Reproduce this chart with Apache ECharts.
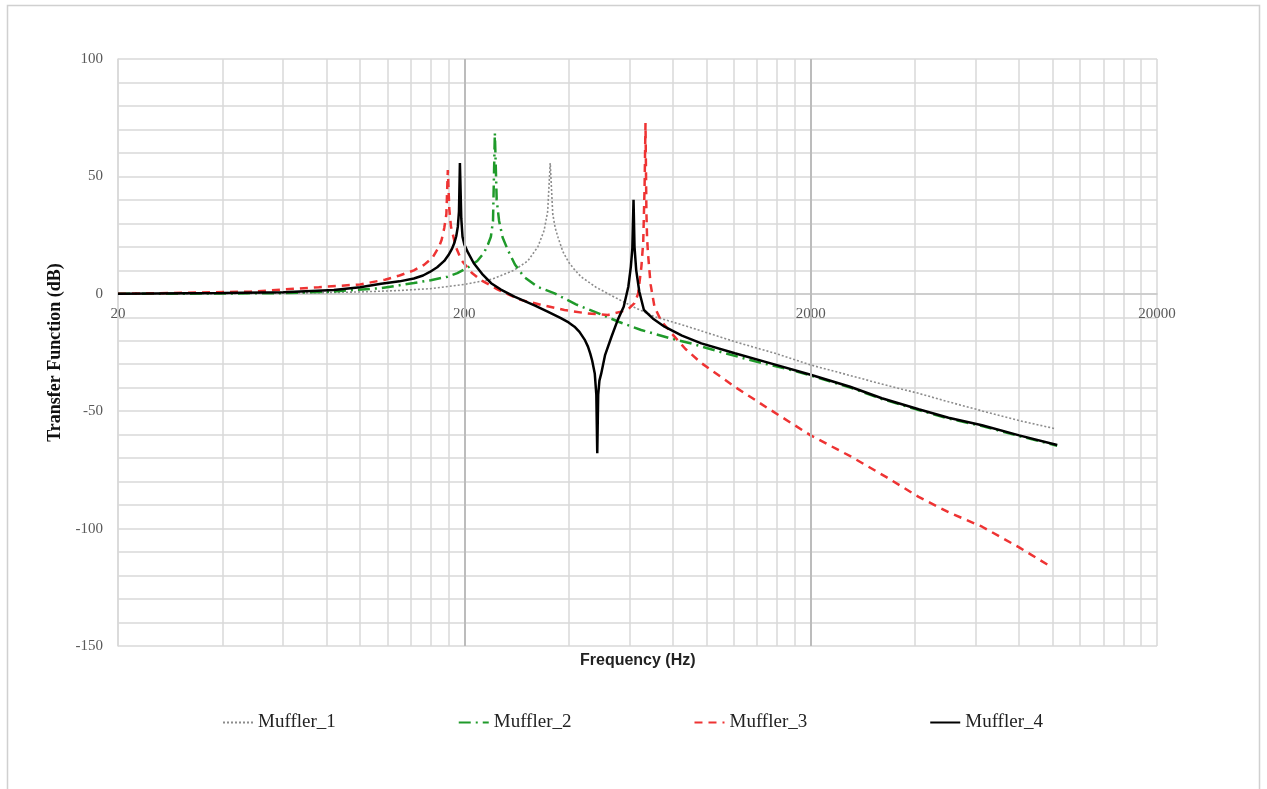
<!DOCTYPE html>
<html>
<head>
<meta charset="utf-8">
<title>Muffler Transfer Function</title>
<script src="https://cdn.jsdelivr.net/npm/echarts@6.0.0/dist/echarts.min.js"></script>
<style>
    html, body { margin: 0; padding: 0; background: #fff; }
    #muffler-chart { width: 1267px; height: 789px; }
</style>
</head>
<body>
<div id="muffler-chart"></div>
<script>
// 频率轴刻度 (Hz)
const xTickLabels = [20, 200, 2000, 20000];
const yTicks = { min: -150, max: 100, step: 50 };

const seriesNames = ['Muffler_1', 'Muffler_2', 'Muffler_3', 'Muffler_4'];

// Muffler_1 (灰色点线)
const freq1 = [20, 40, 60, 80, 100, 130, 160, 200, 240, 278, 305, 326, 340, 348, 354, 360, 366, 373, 385, 400, 415, 435, 480, 542, 620, 707, 850, 967, 1208, 1600, 2000, 2600, 3200, 4100, 5000, 6300, 8000, 10200];
const muffler1 = [0, 0.1, 0.3, 0.5, 0.8, 1.4, 2.2, 4, 6.2, 10, 14, 20, 27, 35, 55.7, 34, 28, 24, 18, 13.5, 10.5, 7.2, 2.8, -1.4, -5.8, -9.7, -13.2, -15.8, -20.4, -25.6, -30.3, -34.8, -38.4, -42.4, -46, -50, -54, -57.5];

// Muffler_2 (绿色点划线)
const freq2 = [20, 40, 60, 80, 115, 143, 160, 179, 191, 204, 218, 228, 234, 238.6, 242, 245, 248, 252, 258, 267, 280, 297, 325, 363, 420, 486, 560, 648, 780, 905, 1100, 1400, 1700, 2000, 2600, 3210, 4100, 5000, 6250, 8000, 10300];
const muffler2 = [0, 0.1, 0.3, 0.8, 2.4, 4.6, 5.8, 7.3, 8.8, 11, 14, 17.5, 21, 24.3, 31, 68.5, 40, 31, 24, 18.7, 12.5, 7.3, 3, 0.3, -4.5, -8.2, -12, -15.4, -18.8, -21.2, -24.8, -29, -31.9, -34.8, -39.9, -44.8, -49.5, -53.1, -56.3, -60.6, -64.7];

// Muffler_3 (红色虚线)
const freq3 = [20, 48, 76, 100, 118, 130, 143, 153, 162, 169, 172, 175, 177.5, 179.2, 181, 183, 189, 196, 210, 223, 250, 291, 340, 389, 450, 520, 568, 600, 620, 635, 649, 657, 663, 667, 671, 674, 678, 690, 708, 740, 792, 870, 967, 1208, 1507, 2000, 2628, 3319, 4100, 5000, 6253, 8000, 9870];
const muffler3 = [0, 0.9, 2.8, 4, 6, 7.8, 10, 12.3, 15.5, 20, 23, 28, 34, 52.7, 36, 28.6, 20, 14.4, 9, 5.9, 1.8, -2.6, -5, -6.9, -8.3, -9, -7.6, -6, -4, 0, 11.5, 22, 45.6, 72.7, 35, 24, 17.4, 4, -5.5, -11.5, -16.7, -23.5, -29.5, -39.6, -48.8, -60.3, -69.5, -78.2, -86.5, -93, -99.2, -108, -116.2];

// Muffler_4 (黑色实线)
const freq4 = [20, 40, 60, 84, 100, 115, 130, 143, 152, 159, 167, 175, 180, 184, 187, 189.5, 191.5, 193, 194.2, 196, 197.6, 200, 205, 213, 225, 239, 255, 279, 300, 320, 348, 380, 400, 416, 430, 445, 455, 462, 468, 476, 481, 484, 487, 491, 497, 510, 532, 555, 577, 595, 605, 611, 616, 620, 627, 640, 660, 700, 757, 850, 967, 1208, 1507, 2000, 2600, 3210, 4100, 5000, 6250, 8000, 10300];
const muffler4 = [0, 0.3, 0.7, 1.6, 2.8, 4.3, 5.3, 6.5, 7.8, 9.3, 11.3, 14, 16.5, 19, 21.5, 24.5, 28.5, 35, 55.7, 32, 24.3, 21, 17.5, 13, 8.5, 4.5, 1.8, -1.2, -3.2, -5, -7.6, -10.4, -12.2, -14, -16.2, -19.5, -22.5, -25.5, -28.5, -33.9, -43, -67.9, -43, -37, -33.9, -26, -18.3, -11, -5.5, 3, 11.5, 19, 40, 20, 10.1, 1, -6.9, -10.5, -14, -17.8, -21.1, -25.3, -29.3, -34.5, -39.6, -44.5, -49.2, -52.8, -56, -60.3, -64.4];

function zip(xs, ys) {
    return xs.map((x, i) => [x, ys[i]]);
}

// 网格线: 每个十倍频程内 1..9 倍
function gridValues() {
    const vals = [];
    xTickLabels.slice(0, -1).forEach(d => {
        for (let k = 1; k <= 9; k++) vals.push(d * k);
    });
    vals.push(xTickLabels[xTickLabels.length - 1]);
    return vals;
}

function initMufflerChart() {
    const chartDom = document.getElementById('muffler-chart');
    if (!chartDom) return;

    const chart = echarts.init(chartDom);
    const gridColor = '#d9d9d9';
    const serif = '"Liberation Serif", "Times New Roman", serif';

    const option = {
        backgroundColor: '#fff',
        animation: false,
        graphic: [
            {
                type: 'rect',
                shape: { x: 7.5, y: 5.5, width: 1252, height: 800 },
                style: { fill: 'none', stroke: '#d0d0d0', lineWidth: 1.5 },
                silent: true
            },
            {
                type: 'text',
                left: 580,
                top: 653,
                style: {
                    text: 'Frequency (Hz)',
                    font: 'bold 16px "Liberation Sans", Arial, sans-serif',
                    fill: '#222'
                }
            }
        ],
        legend: {
            data: seriesNames,
            left: 222,
            top: 713,
            padding: 0,
            itemWidth: 30,
            itemHeight: 14,
            itemGap: 122,
            itemStyle: { opacity: 0 },
            textStyle: { fontFamily: serif, fontSize: 19, color: '#222' }
        },
        grid: {
            left: 118,
            right: 110,
            top: 59,
            bottom: 143
        },
        xAxis: {
            type: 'log',
            logBase: 10,
            min: xTickLabels[0],
            max: xTickLabels[xTickLabels.length - 1],
            // 轴线与标签放在 0 dB 处
            offset: -352.2,
            axisLine: { onZero: false, lineStyle: { color: '#c8c8c8', width: 1.5 } },
            axisTick: { show: false, customValues: gridValues() },
            axisLabel: {
                customValues: xTickLabels,
                formatter: v => String(v),
                margin: 13,
                fontFamily: serif,
                fontSize: 15,
                color: '#595959'
            },
            splitLine: { show: true, lineStyle: { color: gridColor, width: 1.5 } }
        },
        yAxis: {
            type: 'value',
            min: yTicks.min,
            max: yTicks.max,
            interval: yTicks.step,
            name: 'Transfer Function (dB)',
            nameLocation: 'middle',
            nameGap: 46,
            nameTextStyle: { fontFamily: serif, fontSize: 18, fontWeight: 'bold', color: '#111' },
            axisLine: { show: true, lineStyle: { color: gridColor, width: 1.5 } },
            axisTick: { show: false },
            axisLabel: { margin: 15, fontFamily: serif, fontSize: 15, color: '#595959' },
            splitLine: { lineStyle: { color: gridColor, width: 1.5 } },
            minorTick: { show: false, splitNumber: 5 },
            minorSplitLine: { show: true, lineStyle: { color: gridColor, width: 1.5 } }
        },
        series: [
            {
                name: 'Muffler_1',
                type: 'line',
                data: zip(freq1, muffler1),
                symbol: 'none',
                lineStyle: { color: '#8c8c8c', width: 1.6, type: [2, 2] },
                itemStyle: { color: '#8c8c8c' },
                // 十倍频程主网格线 (较深)
                markLine: {
                    silent: true,
                    symbol: 'none',
                    label: { show: false },
                    lineStyle: { color: '#bcbcbc', width: 2, type: 'solid' },
                    data: xTickLabels.slice(1, -1).map(v => ({ xAxis: v }))
                }
            },
            {
                name: 'Muffler_2',
                type: 'line',
                data: zip(freq2, muffler2),
                symbol: 'none',
                lineStyle: { color: '#1f9a2a', width: 2.5, type: [12, 5, 2, 5] },
                itemStyle: { color: '#1f9a2a' }
            },
            {
                name: 'Muffler_3',
                type: 'line',
                data: zip(freq3, muffler3),
                symbol: 'none',
                lineStyle: { color: '#ee3333', width: 2.5, type: [8, 6] },
                itemStyle: { color: '#ee3333' }
            },
            {
                name: 'Muffler_4',
                type: 'line',
                data: zip(freq4, muffler4),
                symbol: 'none',
                lineStyle: { color: '#000', width: 2.5 },
                itemStyle: { color: '#000' }
            }
        ]
    };

    chart.setOption(option);
    window.addEventListener('resize', () => chart.resize());
}

document.addEventListener('DOMContentLoaded', function() {
    if (typeof echarts === 'undefined') {
        console.error('ECharts not loaded');
        return;
    }
    try {
        initMufflerChart();
    } catch (error) {
        console.error('Chart init failed:', error);
    }
});
</script>
</body>
</html>
